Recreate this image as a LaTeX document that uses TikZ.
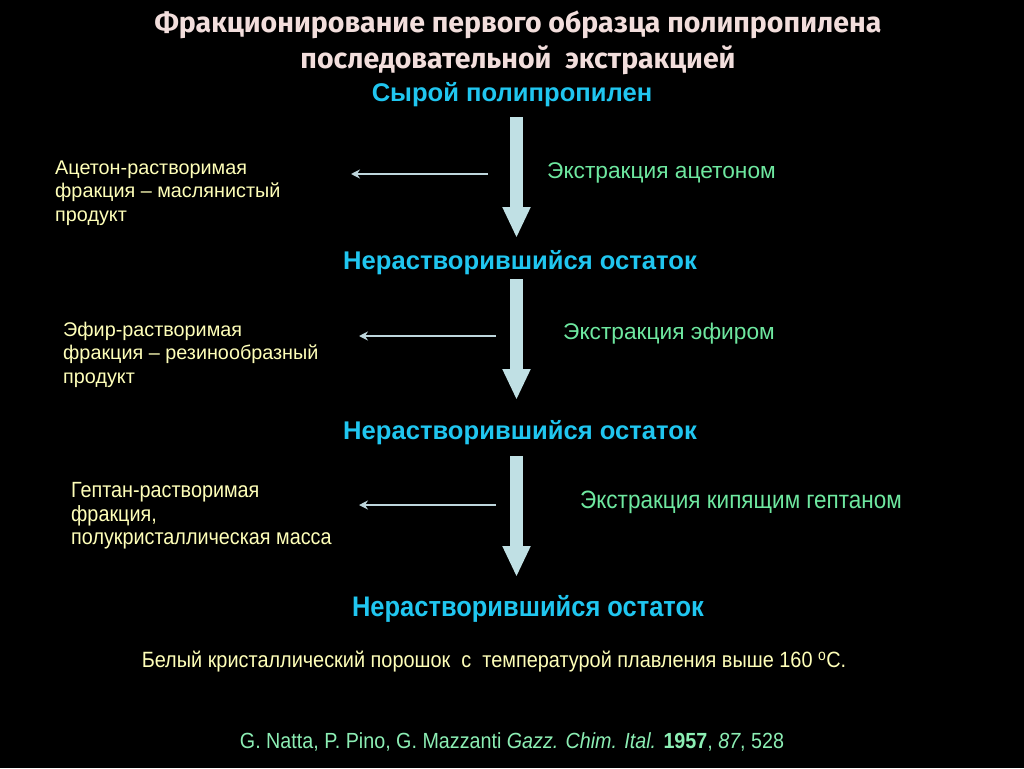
\documentclass[tikz,border=0pt]{standalone}
\usepackage{fontspec}
\setmainfont{Liberation Sans}
\newfontfamily\narrowfont[FakeStretch=0.9]{Liberation Sans}
\newfontfamily\titlefont{Fira Sans}
\usetikzlibrary{arrows.meta}

\definecolor{titlepink}{RGB}{242,222,220}
\definecolor{headcyan}{RGB}{32,198,240}
\definecolor{extgreen}{RGB}{110,232,160}
\definecolor{fracyellow}{RGB}{255,255,185}
\definecolor{citegreen}{RGB}{140,238,180}
\definecolor{flowblue}{RGB}{192,224,228}
\definecolor{sideblue}{RGB}{190,214,220}

\begin{document}
\begin{tikzpicture}[x=1pt,y=-1pt]
    \tikzstyle{title} = [text=titlepink, font=\titlefont\bfseries\fontsize{28.5}{36}\selectfont, align=center, inner sep=0pt]
    \tikzstyle{residue} = [text=headcyan, font=\bfseries\fontsize{25.6}{30}\selectfont, inner sep=0pt]
    \tikzstyle{extraction} = [text=extgreen, font=\fontsize{22.7}{26}\selectfont, anchor=west, inner sep=0pt]
    \tikzstyle{fraction} = [text=fracyellow, font=\fontsize{19.8}{23.5}\selectfont, align=left, anchor=north west, inner sep=0pt]
    \tikzstyle{flow} = [draw=flowblue, line width=13pt, -{Triangle[width=26pt,length=31pt,fill=flowblue]}]
    \tikzstyle{side} = [draw=sideblue, line width=1.6pt, -{Stealth[length=9pt,width=9pt]}]

    %%% BACKGROUND
    \fill[black] (0,0) rectangle (1024,768);
    \useasboundingbox (0,0) rectangle (1024,768);

    %%% TITLE
    \node[title] (T) at (518,42.5) {Фракционирование первого образца полипропилена\\последовательной\ \ экстракцией};

    %%% DRAW THE RESIDUES
    \node[residue] (R-0) at (512,94.5) {Сырой полипропилен};
    \node[residue] (R-1) at (520,262.5) {Нерастворившийся остаток};
    \node[residue] (R-2) at (520,432.5) {Нерастворившийся остаток};
    \node[residue, font=\narrowfont\bfseries\fontsize{28.3}{32}\selectfont] (R-3) at (528,609) {Нерастворившийся остаток};

    %%% DRAW THE EXTRACTIONS
    \node[extraction] (E-1) at (547,172.5) {Экстракция ацетоном};
    \node[extraction] (E-2) at (563,333.5) {Экстракция эфиром};
    \node[extraction, font=\narrowfont\fontsize{25}{28}\selectfont] (E-3) at (580,502) {Экстракция кипящим гептаном};

    %%% DRAW THE FRACTIONS
    \node[fraction] (F-1) at (55,160.5) {Ацетон-растворимая\\фракция -- маслянистый\\продукт};
    \node[fraction] (F-2) at (63,321.5) {Эфир-растворимая\\фракция -- резинообразный\\продукт};
    \node[fraction, font=\narrowfont\fontsize{22}{23.5}\selectfont] (F-3) at (71,482.5) {Гептан-растворимая\\фракция,\\полукристаллическая масса};

    %%% DRAW THE PATHS
    \foreach \n/\top/\tip/\y/\from/\to in {1/117/238/174/488/351, 2/279/400/336/496/359, 3/456/577/505/496/359} {
        \coordinate (A-\n) at (516.5,\top);
        \coordinate (B-\n) at (516.5,\tip);
        \coordinate (S-\n) at (\from,\y);
        \coordinate (D-\n) at (\to,\y);
        \draw[flow] (A-\n) -- (B-\n);
        \draw[side] (S-\n) -- (D-\n);
    }

    %%% ANNOTATE
    \node[text=fracyellow, font=\narrowfont\fontsize{22.1}{26}\selectfont, inner sep=0pt] (W) at (494,662) {Белый кристаллический порошок\ \ с\ \ температурой плавления выше 160 \textsuperscript{o}C.};
    \node[text=citegreen, font=\narrowfont\fontsize{21.9}{24}\selectfont, inner sep=0pt] (cite) at (512,742) {G. Natta, P. Pino, G. Mazzanti \textit{Gazz. Chim. Ital.} \textbf{1957}, \textit{87}, 528};
\end{tikzpicture}
\end{document}
